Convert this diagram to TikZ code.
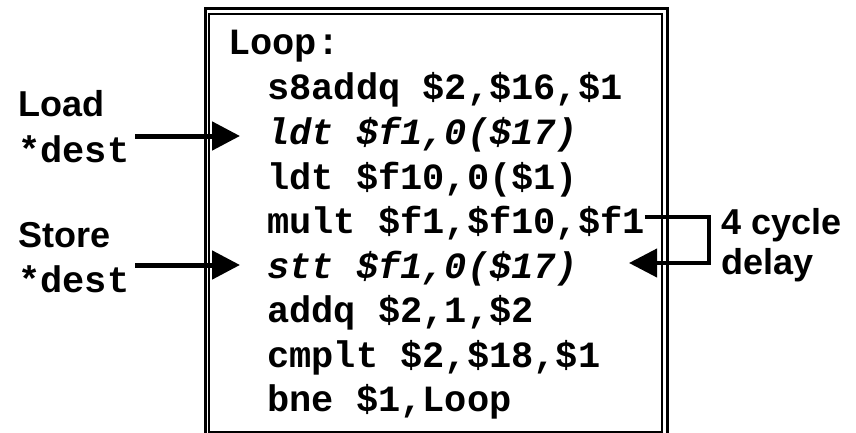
\documentclass[tikz,border=0pt]{standalone}
\usepackage{fontspec}
\setmainfont{Liberation Sans}
\newfontfamily\codefont{Liberation Mono}
\usetikzlibrary{arrows.meta}

\tikzset{
  code/.style={anchor=base west, inner sep=0pt, font=\codefont\bfseries\fontsize{37}{40}\selectfont},
  slow/.style={code, font=\codefont\bfseries\itshape\fontsize{37}{40}\selectfont},
  tag/.style={anchor=base west, inner sep=0pt, font=\bfseries\fontsize{36}{40}\selectfont},
  ptr/.style={line width=5pt, -{Triangle[length=28pt,width=28pt]}},
}

\begin{document}
\begin{tikzpicture}[x=1pt,y=-1pt]
\useasboundingbox (0,0) rectangle (856,433);

% double frame round the loop
\draw[line width=3pt] (205,9) rectangle (667,445);
\draw[line width=2pt] (209,14) rectangle (662,432);

% loop body
\node[code] (loop)  at (228,55)  {Loop:};
\node[code] (s8addq) at (267,100) {s8addq \$2,\$16,\$1};
\node[slow] (ldt)   at (267,144) {ldt \$f1,0(\$17)};
\node[code] (ldtb)  at (267,189) {ldt \$f10,0(\$1)};
\node[code] (mult)  at (267,233) {mult \$f1,\$f10,\$f1};
\node[slow] (stt)   at (267,278) {stt \$f1,0(\$17)};
\node[code] (addq)  at (267,322) {addq \$2,1,\$2};
\node[code] (cmplt) at (267,367) {cmplt \$2,\$18,\$1};
\node[code] (bne)   at (267,411) {bne \$1,Loop};

% labels on the left
\node[tag]  (load)   at (18,117) {Load};
\node[code] (ldest)  at (18,162) {*dest};
\node[tag]  (store)  at (18,247) {Store};
\node[code] (sdest)  at (18,292) {*dest};

% label on the right
\node[tag] (cyc)   at (721,234) {4 cycle};
\node[tag] (delay) at (721,274) {delay};

% pointers into the loop
\coordinate (loadsrc)  at (135,136);
\coordinate (storesrc) at (135,265);
\draw[ptr] (loadsrc) -- ([xshift=-27pt]ldt.west |- loadsrc);
\draw[ptr] (storesrc) -- ([xshift=-27pt]stt.west |- storesrc);

% latency loop from mult to stt
\coordinate (delaytip) at (629,263);
\draw[line width=4pt, -{Triangle[length=28pt,width=28pt]}]
  ([yshift=16pt]mult.base east) -- ++(64,0) |- (delaytip);
\end{tikzpicture}
\end{document}
